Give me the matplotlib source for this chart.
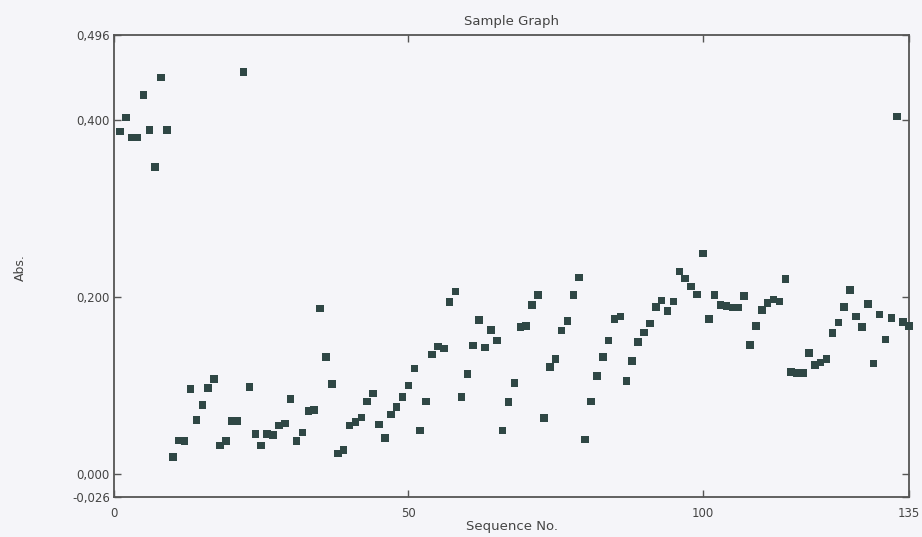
import matplotlib
matplotlib.use("Agg")
import matplotlib.pyplot as plt

plt.rcParams['font.family'] = ['DejaVu Sans']

seq = list(range(1, 136))
absorbance = [
    0.387, 0.403, 0.380, 0.380, 0.428, 0.389, 0.347, 0.448, 0.389, 0.019,
    0.038, 0.037, 0.096, 0.061, 0.078, 0.097, 0.107, 0.032, 0.037, 0.060,
    0.060, 0.454, 0.098, 0.045, 0.032, 0.045, 0.044, 0.055, 0.057, 0.085,
    0.037, 0.047, 0.071, 0.072, 0.187, 0.132, 0.102, 0.023, 0.027, 0.055,
    0.059, 0.064, 0.082, 0.091, 0.056, 0.041, 0.067, 0.076, 0.087, 0.100,
    0.119, 0.049, 0.082, 0.135, 0.144, 0.142, 0.194, 0.206, 0.087, 0.113,
    0.145, 0.174, 0.143, 0.163, 0.151, 0.049, 0.081, 0.103, 0.166, 0.167,
    0.191, 0.202, 0.063, 0.121, 0.130, 0.162, 0.173, 0.202, 0.222, 0.039,
    0.082, 0.111, 0.132, 0.151, 0.175, 0.178, 0.105, 0.128, 0.149, 0.160,
    0.170, 0.189, 0.196, 0.184, 0.195, 0.229, 0.221, 0.212, 0.203, 0.249,
    0.175, 0.202, 0.191, 0.190, 0.188, 0.188, 0.201, 0.146, 0.167, 0.185,
    0.193, 0.197, 0.195, 0.220, 0.115, 0.114, 0.114, 0.137, 0.123, 0.126,
    0.130, 0.159, 0.171, 0.189, 0.208, 0.178, 0.166, 0.192, 0.125, 0.180,
    0.152, 0.176, 0.404, 0.172, 0.167,
]

x_ticks = [0, 50, 100, 135]
x_tick_labels = ["0", "50", "100", "135"]
y_ticks = [-0.026, 0.000, 0.200, 0.400, 0.496]
y_tick_labels = ["-0,026", "0,000", "0,200", "0,400", "0,496"]

bg = "#f5f5f9"
fig = plt.figure(figsize=(9.22, 5.37), dpi=100, facecolor=bg)
ax = fig.add_axes([114/922, 1-497/537, (909-114)/922, (497-35)/537])
ax.set_facecolor(bg)

ax.scatter(seq, absorbance, marker='s', s=30, color='#2f4745',
           edgecolors='none', zorder=3, clip_on=False)

ax.set_xlim(0, 135)
ax.set_ylim(-0.026, 0.496)
ax.set_xticks(x_ticks)
ax.set_xticklabels(x_tick_labels)
ax.set_yticks(y_ticks)
ax.set_yticklabels(y_tick_labels)

for s in ax.spines.values():
    s.set_color('#555555')
    s.set_linewidth(1.3)

ax.tick_params(direction='in', length=5, width=1.0, color='#555555',
               labelsize=8.5, labelcolor='#444444', top=True, right=True)
ax.tick_params(axis='x', pad=7)
ax.tick_params(axis='y', pad=3)

ax.set_title("Sample Graph", fontsize=9.5, color='#444444', pad=7)
ax.set_xlabel("Sequence No.", fontsize=9.5, color='#444444', labelpad=0)
fig.text(20/922, 1-268/537, "Abs.", rotation=90, fontsize=9,
         color='#444444', ha='center', va='center')

fig.savefig("out.png", dpi=100, facecolor=bg)
